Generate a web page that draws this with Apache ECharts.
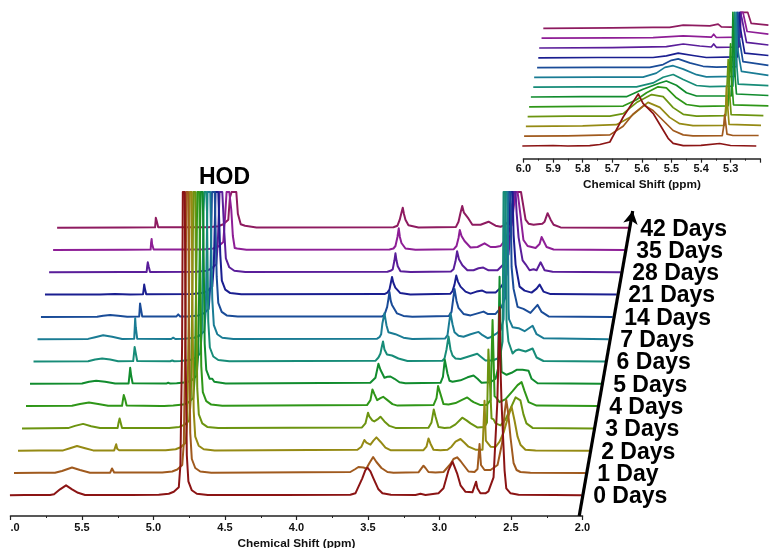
<!DOCTYPE html>
<html><head><meta charset="utf-8">
<style>html,body{margin:0;padding:0;background:#fff}#c{width:769px;height:548px}</style>
<script src="https://cdn.jsdelivr.net/npm/echarts@6/dist/echarts.min.js"></script>
</head><body><div id="c"></div>
<script>
// Each trace: [chemical shift as read on the axis, height above that trace's own baseline]
const days=["0 Days","1 Day","2 Days","3 Days","4 Days","5 Days","6 Days","7 Days","14 Days","21 Days","28 Days","35 Days","42 Days"];
const colors=["#8B1414","#A05A1E","#958A14","#6C9410","#2F9618","#118C2E","#178C78","#1A7C94","#1A4C98","#1A1E90","#5A1E9A","#8E1E96","#8E1B60"];

const d0=[[6.004,0],[5.9,.3],[5.7235,.3],[5.6955,1],[5.6535,6],[5.6115,10],[5.5695,6],[5.5275,2.5],[5.4785,.3],[5.16,.2],[4.963,.5],[4.893,1.5],[4.858,3.5],[4.823,8],[4.812,30],[4.8,150],[4.795,400],[4.781,400],[4.776,150],[4.767,40],[4.756,14],[4.732,5],[4.697,1.5],[4.62,.3],[4.1,.2],[3.6235,.5],[3.588,2],[3.54,17],[3.519,25],[3.504,27.6],[3.483,24],[3.462,17],[3.427,6],[3.399,2],[3.34,.5],[3.168,.3],[3.133,1.5],[3.098,.3],[3.007,2],[2.972,7],[2.937,25],[2.909,33.6],[2.877,22],[2.853,10],[2.818,3.5],[2.77,3],[2.763,5],[2.744,13.6],[2.735,7],[2.714,2],[2.679,2],[2.658,4],[2.622,18],[2.596,92],[2.59,125],[2.58,188],[2.573,125],[2.566,92],[2.545,25],[2.533,7],[2.503,2],[2.447,.5],[2.2,.2],[2.006,0]];
const d1=[[5.9755,0],[5.8,.3],[5.689,.3],[5.64,2],[5.57,5.5],[5.514,3],[5.444,.3],[5.303,.3],[5.29,4.5],[5.275,.5],[4.939,.5],[4.869,1.5],[4.834,3.5],[4.799,8],[4.788,30],[4.776,150],[4.771,400],[4.757,400],[4.752,150],[4.743,40],[4.732,14],[4.708,5],[4.673,1.5],[4.596,.3],[3.6235,1],[3.588,4],[3.567,6],[3.5535,7.3],[3.532,5.5],[3.511,4.5],[3.49,10],[3.464,16],[3.441,11],[3.406,5],[3.364,1],[3.322,.3],[3.147,.7],[3.112,7.3],[3.098,5],[3.077,1],[3.028,.4],[2.972,1],[2.923,9],[2.902,14],[2.877,15.7],[2.853,12],[2.832,8],[2.797,1.5],[2.755,1],[2.734,4],[2.72,29],[2.71,8],[2.699,7],[2.685,3],[2.643,3],[2.594,8],[2.562,30],[2.545,60],[2.533,73],[2.52,60],[2.503,35],[2.482,10],[2.461,3],[2.434,1],[2.364,.3],[1.978,0]];
const d2=[[5.9475,0],[5.8,.2],[5.632,.3],[5.584,2.5],[5.535,4.7],[5.478,2.5],[5.422,.3],[5.275,.3],[5.261,6.5],[5.254,2],[5.24,.5],[4.915,.5],[4.845,1.5],[4.81,3.5],[4.775,8],[4.764,30],[4.752,150],[4.747,400],[4.733,400],[4.728,150],[4.719,40],[4.708,14],[4.684,5],[4.649,1.5],[4.572,.3],[3.574,1],[3.546,4],[3.525,10.7],[3.511,8],[3.483,6],[3.462,10],[3.441,13.3],[3.413,9],[3.378,3],[3.343,.5],[3.112,.5],[3.091,4],[3.077,12.3],[3.063,7],[3.042,1],[2.993,.4],[2.944,1],[2.916,4],[2.888,9],[2.853,11.7],[2.825,8],[2.797,4],[2.748,1],[2.699,1],[2.685,50],[2.676,10],[2.666,8],[2.643,4],[2.608,3.7],[2.58,9],[2.552,18],[2.524,32],[2.496,44],[2.475,30],[2.454,14],[2.434,6],[2.399,1],[2.328,.3],[1.95,0]];
const d3=[[5.9195,0],[5.597,.3],[5.549,2.5],[5.492,4.5],[5.436,2.2],[5.374,.3],[5.251,.3],[5.244,6],[5.237,10],[5.23,8],[5.22,.5],[4.89,.5],[4.82,1.5],[4.785,3.5],[4.75,8],[4.739,30],[4.727,150],[4.722,400],[4.708,400],[4.703,150],[4.694,40],[4.683,14],[4.659,5],[4.624,1.5],[4.547,.3],[3.542,1],[3.518,5],[3.5,15.7],[3.491,12],[3.48,13],[3.47,8],[3.456,7],[3.434,9],[3.413,11.7],[3.385,7],[3.35,2.5],[3.308,.5],[3.077,.7],[3.056,6],[3.04,19],[3.028,12],[3.007,1.5],[2.965,.5],[2.923,1],[2.888,4],[2.841,10.7],[2.811,8],[2.783,5],[2.736,1],[2.685,1.5],[2.668,6],[2.658,79],[2.636,10],[2.622,9],[2.608,5],[2.573,3],[2.538,9],[2.503,20],[2.468,31],[2.434,28],[2.413,14],[2.392,5],[2.349,.5],[1.922,0]];
const d4=[[5.8915,0],[5.57,.3],[5.514,2],[5.451,3.5],[5.387,2.2],[5.317,.3],[5.22,.3],[5.213,7],[5.208,11],[5.199,7],[5.188,.5],[4.95,.1],[4.939,.7],[4.925,.1],[4.862,.5],[4.792,1.5],[4.757,3.5],[4.722,8],[4.711,30],[4.699,150],[4.694,400],[4.68,400],[4.675,150],[4.666,40],[4.655,14],[4.631,5],[4.596,1.5],[4.519,.3],[3.507,1],[3.483,6],[3.469,16.7],[3.455,12],[3.436,6],[3.413,8],[3.394,9.3],[3.364,6],[3.329,2],[3.294,.5],[3.042,1],[3.021,8],[3.01,20],[2.993,12],[2.972,2],[2.937,1.5],[2.888,3],[2.846,6],[2.806,8.7],[2.783,6],[2.762,4],[2.713,1],[2.671,1],[2.643,6],[2.629,86],[2.615,10],[2.601,8],[2.58,4],[2.538,7],[2.489,15],[2.454,21],[2.426,24],[2.405,15],[2.377,4],[2.321,.5],[1.894,0]];
const d5=[[5.8635,0],[5.5,.3],[5.45,2],[5.401,3],[5.338,2],[5.268,.3],[5.174,.4],[5.167,10],[5.163,16],[5.156,8],[5.146,.5],[4.911,.2],[4.897,1],[4.883,.2],[4.838,.5],[4.768,1.5],[4.733,3.5],[4.698,8],[4.687,30],[4.675,150],[4.67,400],[4.656,400],[4.651,150],[4.642,40],[4.631,14],[4.607,5],[4.589,5],[4.584,6],[4.575,2],[4.495,.3],[3.484,1],[3.448,6],[3.427,20],[3.413,14],[3.385,6],[3.364,7],[3.343,7.3],[3.315,5],[3.28,1.5],[3.238,.5],[2.993,1],[2.976,7],[2.963,24],[2.944,10],[2.93,3],[2.909,2],[2.853,3.5],[2.804,6.5],[2.762,8.3],[2.734,5],[2.706,1],[2.643,1.5],[2.608,5],[2.591,15],[2.58,107],[2.573,40],[2.566,12],[2.531,9],[2.496,11],[2.461,14],[2.419,14],[2.377,13],[2.356,5],[2.314,.5],[1.866,0]];
const d6=[[5.839,0],[5.457,.3],[5.408,2],[5.359,3],[5.303,2],[5.247,.3],[5.142,.4],[5.135,10],[5.132,14.5],[5.125,9],[5.114,.5],[4.883,.2],[4.869,1],[4.855,.2],[4.813,.5],[4.743,1.5],[4.708,3.5],[4.673,8],[4.662,30],[4.65,150],[4.645,400],[4.631,400],[4.626,150],[4.617,40],[4.606,14],[4.582,5],[4.547,1.5],[4.47,.3],[3.448,.7],[3.427,4],[3.413,8],[3.403,15],[3.395,20],[3.385,12],[3.367,7],[3.332,6],[3.287,3],[3.224,.5],[2.98,.8],[2.965,3],[2.951,12],[2.937,25],[2.923,12],[2.909,6],[2.888,3],[2.853,2.5],[2.797,5],[2.736,7.7],[2.713,5],[2.678,1],[2.629,1],[2.594,3],[2.573,8],[2.559,20],[2.552,400],[2.538,400],[2.531,40],[2.518,20],[2.489,8],[2.468,11],[2.447,12],[2.398,10],[2.349,13],[2.321,4],[2.273,.5],[1.842,0]];
const d7=[[5.811,0],[5.457,.3],[5.408,2],[5.352,4],[5.289,2.5],[5.219,.3],[5.135,.4],[5.131,12],[5.128,21],[5.124,12],[5.114,.5],[4.876,.2],[4.862,1.5],[4.848,.2],[4.785,.5],[4.715,1.5],[4.68,3.5],[4.645,8],[4.634,30],[4.622,150],[4.617,400],[4.603,400],[4.598,150],[4.589,40],[4.578,14],[4.554,5],[4.519,1.5],[4.442,.3],[3.436,.5],[3.42,2],[3.408,5],[3.399,16],[3.385,26],[3.371,14],[3.357,7],[3.308,5],[3.252,1.5],[3.191,.2],[2.96,.8],[2.944,4],[2.934,15],[2.923,26],[2.909,15],[2.895,7],[2.867,3.5],[2.832,2.5],[2.783,5],[2.727,7.3],[2.699,4],[2.664,1],[2.643,2],[2.608,5],[2.573,9],[2.552,20],[2.538,400],[2.524,400],[2.517,30],[2.514,20],[2.489,12],[2.447,11],[2.405,8],[2.349,13.5],[2.321,5],[2.273,1],[1.817,0]];
const d8=[[5.787,0],[5.394,.2],[5.352,1.2],[5.303,2],[5.247,1.2],[5.184,.2],[5.1,.4],[5.096,9],[5.094,13.5],[5.089,9],[5.079,.5],[4.841,.3],[4.827,2.5],[4.813,.3],[4.754,.5],[4.684,1.5],[4.649,3.5],[4.614,8],[4.603,30],[4.591,150],[4.586,400],[4.572,400],[4.567,150],[4.558,40],[4.547,14],[4.523,5],[4.488,1.5],[4.411,.3],[3.401,.5],[3.385,2],[3.366,10],[3.357,18],[3.35,25],[3.341,16],[3.332,12],[3.297,3.5],[3.252,1],[3.19,.2],[2.935,.8],[2.916,5],[2.906,16],[2.895,28],[2.881,16],[2.867,9],[2.832,3],[2.783,1.5],[2.734,3.5],[2.692,5.3],[2.664,3],[2.643,3],[2.608,3],[2.566,10],[2.538,20],[2.517,400],[2.503,400],[2.496,50],[2.482,28],[2.454,10],[2.413,8],[2.364,4],[2.314,12],[2.286,5],[2.237,.5],[1.789,0]];
const d9=[[5.759,0],[5.374,.1],[5.269,.7],[5.164,.1],[5.073,.4],[5.068,6],[5.065,10],[5.06,6],[5.051,.4],[4.729,.5],[4.659,1.5],[4.624,3.5],[4.589,8],[4.578,30],[4.566,150],[4.561,400],[4.547,400],[4.542,150],[4.533,40],[4.522,14],[4.498,5],[4.463,1.5],[4.386,.3],[3.385,.5],[3.364,2],[3.35,5],[3.34,12],[3.332,17.7],[3.323,12],[3.309,7],[3.274,1.5],[3.204,.2],[2.925,.8],[2.909,3.5],[2.895,10],[2.883,19],[2.871,13],[2.853,8],[2.818,3],[2.783,1],[2.741,3],[2.701,4],[2.671,2],[2.643,2],[2.608,2],[2.58,6],[2.559,10],[2.531,20],[2.503,400],[2.489,400],[2.482,60],[2.468,30],[2.44,8],[2.405,4],[2.356,2],[2.321,6],[2.3,10],[2.273,3],[2.223,.5],[1.761,0]];
const d10=[[5.73,0],[5.2,.2],[5.048,.4],[5.044,6],[5.04,10],[5.034,6],[5.024,.4],[4.701,.5],[4.631,1.5],[4.596,3.5],[4.561,8],[4.55,30],[4.538,150],[4.533,400],[4.519,400],[4.514,150],[4.505,40],[4.494,14],[4.47,5],[4.435,1.5],[4.358,.3],[3.364,.5],[3.343,1.5],[3.327,3],[3.315,12],[3.308,19],[3.301,12],[3.292,6],[3.273,1],[3.203,.2],[2.92,.8],[2.902,3],[2.888,11],[2.877,21],[2.864,13],[2.84,7],[2.805,2],[2.762,2],[2.727,4],[2.694,4.7],[2.657,2],[2.629,2],[2.594,2],[2.552,8],[2.517,18],[2.482,400],[2.468,400],[2.461,60],[2.447,35],[2.419,12],[2.398,8],[2.37,2],[2.342,3],[2.321,2],[2.293,10],[2.265,2],[2.209,.5],[1.733,0]];
const d11=[[5.702,0],[5.2,.2],[5.02,.4],[5.017,7],[5.013,11],[5.01,6],[4.999,.4],[4.652,.5],[4.582,1.5],[4.547,3.5],[4.512,8],[4.501,30],[4.489,150],[4.484,400],[4.47,400],[4.465,150],[4.456,40],[4.445,14],[4.432,2],[4.428,4],[4.415,1.5],[4.35,.3],[3.35,.5],[3.322,1.5],[3.308,4],[3.294,13],[3.285,21.7],[3.277,13],[3.266,7],[3.238,1.5],[3.168,.2],[2.9,.8],[2.881,4],[2.867,12],[2.858,20],[2.846,14],[2.825,9],[2.783,2.5],[2.734,3],[2.685,6.7],[2.643,3],[2.608,3],[2.573,4],[2.552,8],[2.531,13],[2.496,25],[2.468,400],[2.454,400],[2.447,70],[2.434,35],[2.413,10],[2.384,4],[2.328,2],[2.3,6],[2.286,13],[2.251,3],[2.202,.5],[1.705,0]];
const d12=[[5.674,0],[5.2,.2],[4.989,.4],[4.985,7],[4.984,10],[4.978,7],[4.967,.4],[4.617,.5],[4.547,1.5],[4.512,3.5],[4.477,8],[4.466,30],[4.454,150],[4.449,400],[4.435,400],[4.43,150],[4.421,40],[4.41,14],[4.39,3.5],[4.36,2],[4.35,1.5],[4.28,.3],[3.322,.5],[3.294,2],[3.278,8],[3.266,15],[3.257,20],[3.249,14],[3.238,8],[3.217,2.5],[3.147,.2],[2.885,.8],[2.867,6],[2.853,15],[2.841,21.7],[2.829,15],[2.797,9],[2.77,3],[2.713,3],[2.657,6],[2.608,2],[2.573,1],[2.552,2],[2.517,6],[2.489,25],[2.479,60],[2.451,60],[2.447,400],[2.43,400],[2.419,40],[2.398,8],[2.377,4],[2.342,3],[2.314,3.5],[2.281,4],[2.265,6],[2.244,14.5],[2.223,8],[2.202,3],[2.153,.3],[1.677,0]];
const mainTraces=[d0,d1,d2,d3,d4,d5,d6,d7,d8,d9,d10,d11,d12];

// Inset: 6.0 to 5.2 ppm region of the same thirteen traces
const z0=[[6.004,0],[5.9,.5],[5.85,0],[5.776,.3],[5.742,1.5],[5.708,4],[5.663,29],[5.612,52],[5.596,42.7],[5.562,32.7],[5.534,19],[5.511,7.7],[5.494,2.7],[5.46,.3],[5.4,.6],[5.337,2.5],[5.3,.5],[5.213,0]];
const z1=[[5.998,0],[5.85,.4],[5.708,1.3],[5.663,10],[5.63,22],[5.592,31],[5.562,25.7],[5.528,15.7],[5.494,5.7],[5.46,1.3],[5.427,.3],[5.328,.5],[5.323,10],[5.32,21.7],[5.316,12],[5.312,2],[5.292,.7],[5.205,.7]];
const z2=[[5.992,0],[5.8,.5],[5.686,1.7],[5.641,9],[5.579,24],[5.539,19],[5.506,9],[5.472,2.7],[5.427,.7],[5.321,1],[5.316,20],[5.314,40],[5.311,25],[5.305,2],[5.197,1]];
const z3=[[5.986,0],[5.85,.4],[5.708,.5],[5.663,3],[5.618,14],[5.567,22],[5.528,20],[5.494,9],[5.46,2.3],[5.415,.5],[5.316,1],[5.312,30],[5.308,57],[5.305,30],[5.298,2],[5.189,1]];
const z4=[[5.981,0],[5.8,.4],[5.663,.7],[5.618,7],[5.584,14],[5.545,20],[5.517,19],[5.483,9],[5.449,2.3],[5.404,.5],[5.308,1],[5.304,30],[5.3,63],[5.297,30],[5.29,2],[5.172,1]];
const z5=[[5.975,0],[5.8,.3],[5.652,.3],[5.596,7.7],[5.539,14],[5.517,16],[5.483,11.7],[5.449,4.3],[5.415,1],[5.298,1],[5.295,30],[5.292,300],[5.289,300],[5.287,30],[5.28,3],[5.172,1.5]];
const z6=[[5.967,0],[5.8,.4],[5.618,.3],[5.562,4.3],[5.528,10],[5.494,12.7],[5.46,7.7],[5.415,1.7],[5.37,.5],[5.292,1],[5.288,30],[5.286,300],[5.284,300],[5.281,30],[5.274,3],[5.172,1.5]];
const z7=[[5.964,0],[5.75,.3],[5.596,.3],[5.551,4.3],[5.522,10],[5.494,11.7],[5.46,8.3],[5.415,2.7],[5.382,.5],[5.286,1],[5.284,30],[5.281,300],[5.279,300],[5.277,30],[5.263,6],[5.172,2]];
const z8=[[5.954,0],[5.75,.3],[5.573,.3],[5.528,3],[5.5,7.3],[5.477,8.7],[5.438,4.7],[5.393,1.3],[5.348,.5],[5.28,1],[5.278,30],[5.276,300],[5.274,300],[5.271,30],[5.258,6],[5.172,2.3]];
const z9=[[5.95,0],[5.75,.3],[5.562,.3],[5.517,2],[5.477,4.7],[5.427,2.3],[5.382,.3],[5.276,1],[5.274,30],[5.271,300],[5.269,300],[5.267,30],[5.252,4.7],[5.172,2.3]];
const z10=[[5.947,0],[5.7,.3],[5.517,1.3],[5.46,4],[5.404,2],[5.365,1],[5.357,4],[5.348,.7],[5.271,1],[5.269,30],[5.267,300],[5.265,300],[5.262,30],[5.246,5.7],[5.172,3]];
const z11=[[5.939,0],[5.7,.4],[5.562,.5],[5.46,2.3],[5.365,1],[5.357,4],[5.348,.7],[5.267,1],[5.265,30],[5.262,300],[5.26,300],[5.258,30],[5.244,6.7],[5.172,4]];
const z12=[[5.933,0],[5.7,.5],[5.562,1],[5.506,1],[5.46,3.3],[5.37,2.5],[5.342,4.3],[5.331,1.5],[5.269,1],[5.265,30],[5.262,300],[5.242,300],[5.24,30],[5.23,5],[5.172,3.3]];
const insetTraces=[z0,z1,z2,z3,z4,z5,z6,z7,z8,z9,z10,z11,z12];

const FONT='"Liberation Sans",Arial,sans-serif';
const mainBase=20.7, mainGap=22.3, mainTop=324;
const insetBase=12.7, insetGap=9.8, insetTop=146.4;

function stack(tr,i,base,gap,top){return tr.map(p=>[p[0],Math.min(base+gap*i+p[1],top)]);}
const series=[];
for(let i=12;i>=0;i--){
  series.push({type:'line',xAxisIndex:0,yAxisIndex:0,clip:false,symbol:'none',silent:true,animation:false,
    name:days[i],data:stack(mainTraces[i],i,mainBase,mainGap,mainTop),
    lineStyle:{color:colors[i],width:2,join:'round'}});
  series.push({type:'line',xAxisIndex:1,yAxisIndex:1,clip:false,symbol:'none',silent:true,animation:false,
    name:days[i]+' inset',data:stack(insetTraces[i],i,insetBase,insetGap,insetTop),
    lineStyle:{color:colors[i],width:1.7,join:'round'}});
}
series.push({type:'scatter',xAxisIndex:0,yAxisIndex:0,clip:false,symbolSize:1,silent:true,animation:false,
  itemStyle:{color:'rgba(0,0,0,0)',opacity:1},
  data:days.map((d,i)=>{const t=mainTraces[i],last=t[t.length-1];return {name:d,value:[last[0],mainBase+mainGap*i]};}),
  label:{show:true,position:'right',distance:11,offset:[0,1.5],formatter:p=>p.name,color:'#000',fontFamily:FONT,fontWeight:'bold',fontSize:23},
  markLine:{silent:true,animation:false,symbol:['none','arrow'],symbolSize:[11,13],label:{show:false},
    lineStyle:{color:'#000',width:3.2,type:'solid'},
    data:[[{coord:[2.023,0]},{coord:[1.649,305]}]]}
});
const axisCommon={type:'value',inverse:true,splitLine:{show:false},
  axisLine:{show:true,onZero:false,lineStyle:{color:'#222',width:1.6}},
  axisTick:{show:true,length:4,lineStyle:{color:'#222',width:1.2}},
  minorTick:{show:true,splitNumber:2,length:2,lineStyle:{color:'#222',width:1}},
  minorSplitLine:{show:false},
  nameLocation:'middle',nameTextStyle:{color:'#111',fontFamily:FONT,fontWeight:'bold',fontSize:11.8}};
const hiddenX={type:'value',inverse:true,show:false};
const gridCommon={outerBoundsMode:'none',containLabel:false};
const option={
  animation:false,backgroundColor:'#fff',
  grid:[
    Object.assign({left:10.5,right:129.3,top:192,bottom:32},gridCommon),   // traces, run past 2.0 along the skew
    Object.assign({left:523.5,right:0,top:12.3,bottom:389.3},gridCommon),  // inset traces
    Object.assign({left:10.5,right:186.5,top:192,bottom:32},gridCommon),   // main axis
    Object.assign({left:523.5,right:8.7,top:12.3,bottom:389.3},gridCommon) // inset axis
  ],
  xAxis:[
    Object.assign({},hiddenX,{gridIndex:0,min:1.6,max:6}),
    Object.assign({},hiddenX,{gridIndex:1,min:5.17,max:6}),
    Object.assign({},axisCommon,{gridIndex:2,min:2,max:6,interval:.5,name:'Chemical Shift (ppm)',nameGap:18,
      axisLabel:{margin:6,color:'#111',fontFamily:FONT,fontWeight:'bold',fontSize:11,
        formatter:v=>v===6?'   .0':v.toFixed(1)}}),
    Object.assign({},axisCommon,{gridIndex:3,min:5.2,max:6,interval:.1,name:'Chemical Shift (ppm)',nameGap:20,
      axisLabel:{margin:5,color:'#111',fontFamily:FONT,fontWeight:'bold',fontSize:11,
        formatter:v=>v<5.25?'':v.toFixed(1)}})
  ],
  yAxis:[
    {type:'value',gridIndex:0,min:0,max:mainTop,show:false},
    {type:'value',gridIndex:1,min:0,max:insetTop,show:false},
    {type:'value',gridIndex:2,min:0,max:mainTop,show:false},
    {type:'value',gridIndex:3,min:0,max:insetTop,show:false}
  ],
  graphic:[{type:'text',left:199,top:166,silent:true,style:{text:'HOD',fill:'#000',font:'bold 23px '+FONT}}],
  series
};
const chart=echarts.init(document.getElementById('c'),null,{renderer:'canvas'});
chart.setOption(option);
</script></body></html>
